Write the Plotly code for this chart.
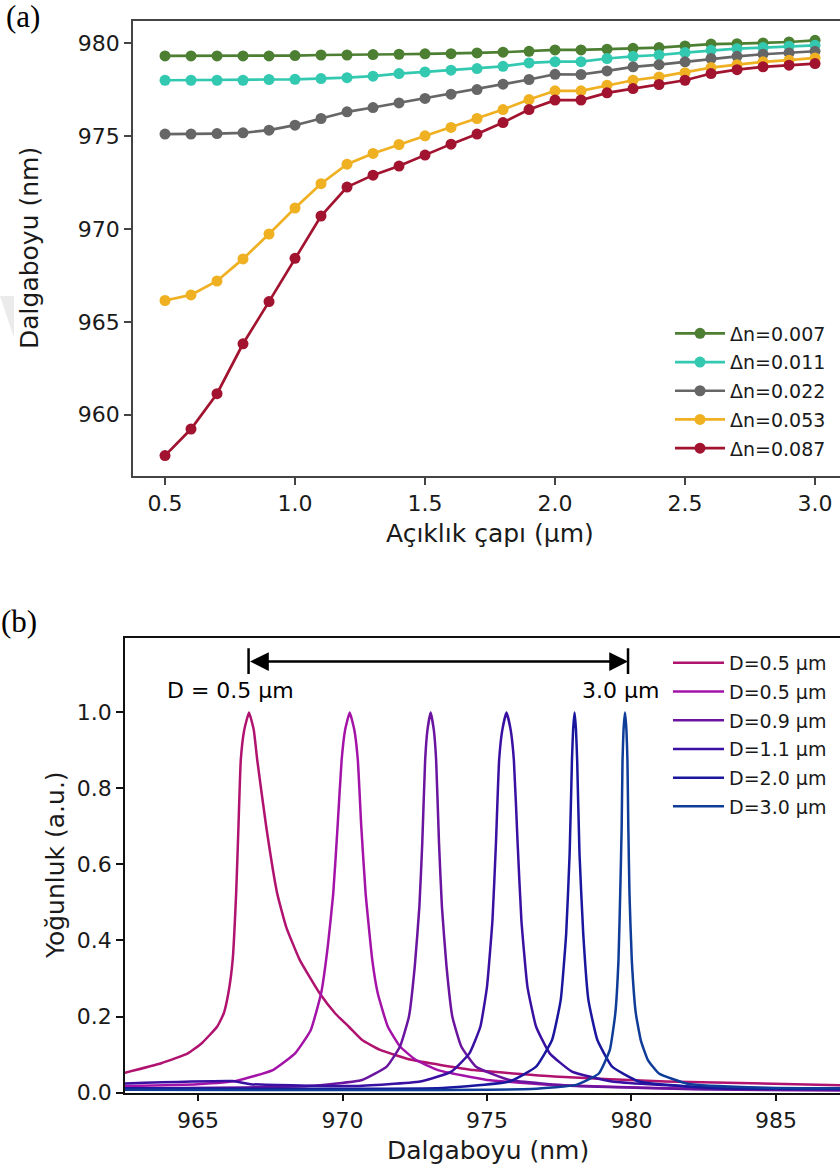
import plotly.graph_objects as go

W, H = 840, 1166

# ---------------- Panel (a) data ----------------
aperture = [0.5, 0.6, 0.7, 0.8, 0.9, 1.0, 1.1, 1.2, 1.3, 1.4, 1.5, 1.6, 1.7,
            1.8, 1.9, 2.0, 2.1, 2.2, 2.3, 2.4, 2.5, 2.6, 2.7, 2.8, 2.9, 3.0]
wl_dn007 = [979.32, 979.32, 979.32, 979.32, 979.32, 979.34, 979.37, 979.37, 979.39,
            979.41, 979.43, 979.44, 979.48, 979.52, 979.57, 979.64, 979.64, 979.68,
            979.73, 979.77, 979.86, 979.96, 979.98, 980.02, 980.07, 980.16]
wl_dn011 = [978.01, 978.01, 978.01, 978.01, 978.05, 978.06, 978.10, 978.15, 978.23,
            978.37, 978.46, 978.55, 978.64, 978.76, 978.94, 979.01, 979.01, 979.18,
            979.30, 979.37, 979.50, 979.62, 979.71, 979.77, 979.84, 979.89]
wl_dn022 = [975.11, 975.11, 975.14, 975.18, 975.32, 975.59, 975.95, 976.31, 976.54,
            976.79, 977.03, 977.26, 977.51, 977.80, 978.05, 978.33, 978.32, 978.51,
            978.73, 978.85, 979.00, 979.18, 979.30, 979.41, 979.48, 979.57]
wl_dn053 = [966.15, 966.45, 967.20, 968.39, 969.73, 971.13, 972.44, 973.49, 974.07,
            974.55, 975.02, 975.47, 975.95, 976.43, 976.97, 977.44, 977.44, 977.74,
            978.01, 978.19, 978.42, 978.69, 978.85, 979.00, 979.09, 979.21]
wl_dn087 = [957.80, 959.23, 961.13, 963.82, 966.09, 968.42, 970.70, 972.26, 972.90,
            973.39, 973.98, 974.57, 975.11, 975.73, 976.43, 976.94, 976.94, 977.33,
            977.56, 977.78, 978.01, 978.37, 978.58, 978.73, 978.82, 978.91]
dn_labels = ["Δn=0.007", "Δn=0.011", "Δn=0.022", "Δn=0.053", "Δn=0.087"]
dn_colors = ["#4d7f33", "#33c9b1", "#666666", "#efb022", "#a2132f"]

# ---------------- Panel (b) data ----------------
wl_a = [962.47, 963.73, 964.65, 965.12, 965.66, 965.89, 966.05, 966.20, 966.32, 966.40,
        966.48, 966.60, 966.765, 966.93, 967.05, 967.36, 967.74, 968.05, 968.52, 969.21,
        969.75, 970.22, 970.68, 971.30, 972.38, 974.54, 977.32, 981.18, 987.22]
int_a = [0.052, 0.077, 0.103, 0.129, 0.173, 0.208, 0.261, 0.349, 0.524, 0.70,
         0.875, 0.954, 1.0, 0.954, 0.875, 0.70, 0.524, 0.436, 0.349, 0.261,
         0.208, 0.173, 0.138, 0.112, 0.086, 0.059, 0.042, 0.029, 0.019]

wl_b = [962.47, 964.97, 966.35, 967.59, 968.36, 968.90, 969.26, 969.49, 969.68, 969.83,
        969.97, 970.09, 970.25, 970.41, 970.53, 970.65, 970.80, 971.03, 971.22, 971.57,
        971.99, 972.53, 973.30, 975.00, 977.32, 981.18, 987.22]
int_b = [0.017, 0.022, 0.031, 0.059, 0.103, 0.164, 0.261, 0.384, 0.524, 0.70,
         0.875, 0.954, 1.0, 0.954, 0.875, 0.70, 0.524, 0.349, 0.261, 0.173,
         0.121, 0.086, 0.059, 0.033, 0.020, 0.011, 0.007]

wl_c = [962.47, 968.83, 970.68, 971.53, 971.99, 972.30, 972.50, 972.66, 972.76, 972.86,
        972.94, 973.05, 973.16, 973.24, 973.34, 973.44, 973.60, 973.80, 974.11, 974.62,
        975.78, 978.09, 982.73, 987.22]
int_c = [0.011, 0.017, 0.033, 0.068, 0.121, 0.200, 0.331, 0.489, 0.656, 0.875,
         0.954, 1.0, 0.954, 0.875, 0.656, 0.489, 0.331, 0.200, 0.121, 0.068,
         0.033, 0.017, 0.008, 0.005]

wl_d = [962.47, 966.20, 966.82, 970.37, 972.69, 973.77, 974.39, 974.77, 975.00, 975.19,
        975.31, 975.42, 975.53, 975.675, 975.82, 975.93, 976.06, 976.19, 976.40, 976.70,
        977.17, 977.94, 979.33, 981.95, 987.22]
int_d = [0.024, 0.030, 0.022, 0.017, 0.029, 0.055, 0.103, 0.173, 0.278, 0.454,
         0.656, 0.875, 0.954, 1.0, 0.954, 0.875, 0.656, 0.454, 0.278, 0.173,
         0.103, 0.055, 0.029, 0.016, 0.009]

wl_e = [962.47, 973.46, 975.78, 976.70, 977.25, 977.55, 977.74, 977.86, 977.94, 977.98,
        978.03, 978.08, 978.12, 978.20, 978.33, 978.51, 978.82, 979.33, 980.26, 982.73, 987.22]
int_e = [0.011, 0.012, 0.029, 0.068, 0.138, 0.243, 0.418, 0.630, 0.875, 0.954,
         1.0, 0.954, 0.875, 0.630, 0.418, 0.243, 0.138, 0.068, 0.029, 0.012, 0.009]

wl_f = [962.47, 976.55, 978.09, 978.87, 979.25, 979.44, 979.55, 979.61, 979.66, 979.69,
        979.725, 979.775, 979.825, 979.86, 979.89, 979.93, 980.01, 980.15, 980.33, 980.57,
        980.95, 981.95, 984.27, 987.22]
int_f = [0.007, 0.009, 0.020, 0.050, 0.112, 0.208, 0.349, 0.524, 0.70, 0.875,
         0.954, 1.0, 0.954, 0.875, 0.70, 0.524, 0.349, 0.208, 0.135, 0.085,
         0.050, 0.023, 0.013, 0.011]

spec_x = [wl_a, wl_b, wl_c, wl_d, wl_e, wl_f]
spec_y = [int_a, int_b, int_c, int_d, int_e, int_f]
spec_labels = ["D=0.5 µm", "D=0.5 µm", "D=0.9 µm", "D=1.1 µm", "D=2.0 µm", "D=3.0 µm"]
spec_colors = ["#b0126f", "#a313a8", "#6a149f", "#3a10a3", "#1a179e", "#0e3c98"]

arrow_left, arrow_right, arrow_level = 966.75, 979.88, 1.134
label_left, label_right = "D = 0.5 µm", "3.0 µm"

FONT = "DejaVu Sans"
TXT = "#1a1a1a"


def px(x):
    return x / W


def py(y):
    return 1 - y / H


fig = go.Figure()

for yy, lab, col in zip([wl_dn007, wl_dn011, wl_dn022, wl_dn053, wl_dn087], dn_labels, dn_colors):
    fig.add_trace(go.Scatter(
        x=aperture, y=yy, name=lab, mode="lines+markers",
        line=dict(color=col, width=2.7), marker=dict(color=col, size=11),
        xaxis="x", yaxis="y", legend="legend", legendgroup=lab))

for xx, yy, lab, col in zip(spec_x, spec_y, spec_labels, spec_colors):
    fig.add_trace(go.Scatter(
        x=xx, y=yy, name=lab, mode="lines",
        line=dict(color=col, width=2.5, shape="spline", smoothing=0.4),
        xaxis="x2", yaxis="y2", legend="legend2", legendgroup=lab + col))

axis_common = dict(showgrid=False, zeroline=False, ticks="outside", ticklen=7,
                   tickwidth=1.5, showline=True, linewidth=1.6, automargin=False,
                   tickfont=dict(family=FONT, size=22, color=TXT))

fig.update_layout(
    width=W, height=H, margin=dict(l=0, r=0, t=0, b=0, autoexpand=False),
    paper_bgcolor="white", plot_bgcolor="white",
    showlegend=True,
    xaxis=dict(domain=[px(133), 1], range=[0.3769, 3.096], anchor="y",
               tickvals=[0.5, 1.0, 1.5, 2.0, 2.5, 3.0],
               ticktext=["0.5", "1.0", "1.5", "2.0", "2.5", "3.0"],
               mirror=True, linecolor="#444", tickcolor="#444", **axis_common),
    yaxis=dict(domain=[py(476), py(21)], range=[956.7, 981.2], anchor="x",
               tickvals=[960, 965, 970, 975, 980],
               linecolor="#444", tickcolor="#444", **axis_common),
    xaxis2=dict(domain=[px(125), 1], range=[962.474, 987.215], anchor="y2",
                tickvals=[965, 970, 975, 980, 985],
                mirror=True, linecolor="#111", tickcolor="#111", **axis_common),
    yaxis2=dict(domain=[py(1092.5), py(638)], range=[0, 1.196], anchor="x2",
                tickvals=[0, 0.2, 0.4, 0.6, 0.8, 1.0],
                ticktext=["0.0", "0.2", "0.4", "0.6", "0.8", "1.0"],
                linecolor="#111", tickcolor="#111", **axis_common),
    legend=dict(x=px(670), y=py(314.5), xanchor="left", yanchor="top", itemwidth=50,
                bgcolor="rgba(0,0,0,0)", font=dict(family=FONT, size=19, color=TXT),
                tracegroupgap=1),
    legend2=dict(x=px(668), y=py(644), xanchor="left", yanchor="top", itemwidth=51,
                 bgcolor="rgba(0,0,0,0)", font=dict(family=FONT, size=19, color=TXT),
                 tracegroupgap=1),
)

C = dict(xanchor="center", yanchor="middle", showarrow=False)
ann = []
ann.append(dict(text="Dalgaboyu (nm)", x=px(30), y=py(248), xref="paper", yref="paper",
                textangle=-90, font=dict(family=FONT, size=25, color=TXT), **C))
ann.append(dict(text="Açıklık çapı (µm)", x=px(490), y=py(533), xref="paper", yref="paper",
                font=dict(family=FONT, size=25, color=TXT), **C))
ann.append(dict(text="Yoğunluk (a.u.)", x=px(55), y=py(865), xref="paper", yref="paper",
                textangle=-90, font=dict(family=FONT, size=25, color=TXT), **C))
ann.append(dict(text="Dalgaboyu (nm)", x=px(488), y=py(1150), xref="paper", yref="paper",
                font=dict(family=FONT, size=25, color=TXT), **C))
ann.append(dict(text="(a)", x=px(23), y=py(16), xref="paper", yref="paper",
                font=dict(family="Liberation Serif", size=31, color="black"), **C))
ann.append(dict(text="(b)", x=px(19), y=py(621), xref="paper", yref="paper",
                font=dict(family="Liberation Serif", size=31, color="black"), **C))
ann.append(dict(text=label_left, x=966.12, y=1.057, xref="x2", yref="y2",
                font=dict(family=FONT, size=22, color="black"), **C))
ann.append(dict(text=label_right, x=979.62, y=1.057, xref="x2", yref="y2",
                font=dict(family=FONT, size=22, color="black"), **C))
ann.append(dict(text="", x=arrow_right, y=arrow_level, ax=arrow_left, ay=arrow_level,
                xref="x2", yref="y2", axref="x2", ayref="y2",
                showarrow=True, arrowhead=2, startarrowhead=2, arrowside="end+start",
                arrowsize=1.5, startarrowsize=1.5, arrowwidth=2.5,
                arrowcolor="black", standoff=0, startstandoff=0))
fig.update_layout(annotations=ann)

shapes = []
for end in (arrow_left, arrow_right):
    shapes.append(dict(type="line", xref="x2", yref="y2", x0=end, x1=end,
                       y0=arrow_level - 0.033, y1=arrow_level + 0.035,
                       line=dict(color="black", width=2.5)))
shapes.append(dict(type="path", xref="paper", yref="paper",
                   path=f"M 0,{py(296)} L {px(14)},{py(296)} L {px(14)},{py(338)} Z",
                   fillcolor="#ebebeb", line=dict(width=0), layer="below"))
fig.update_layout(shapes=shapes)

fig.write_html("out.html")
